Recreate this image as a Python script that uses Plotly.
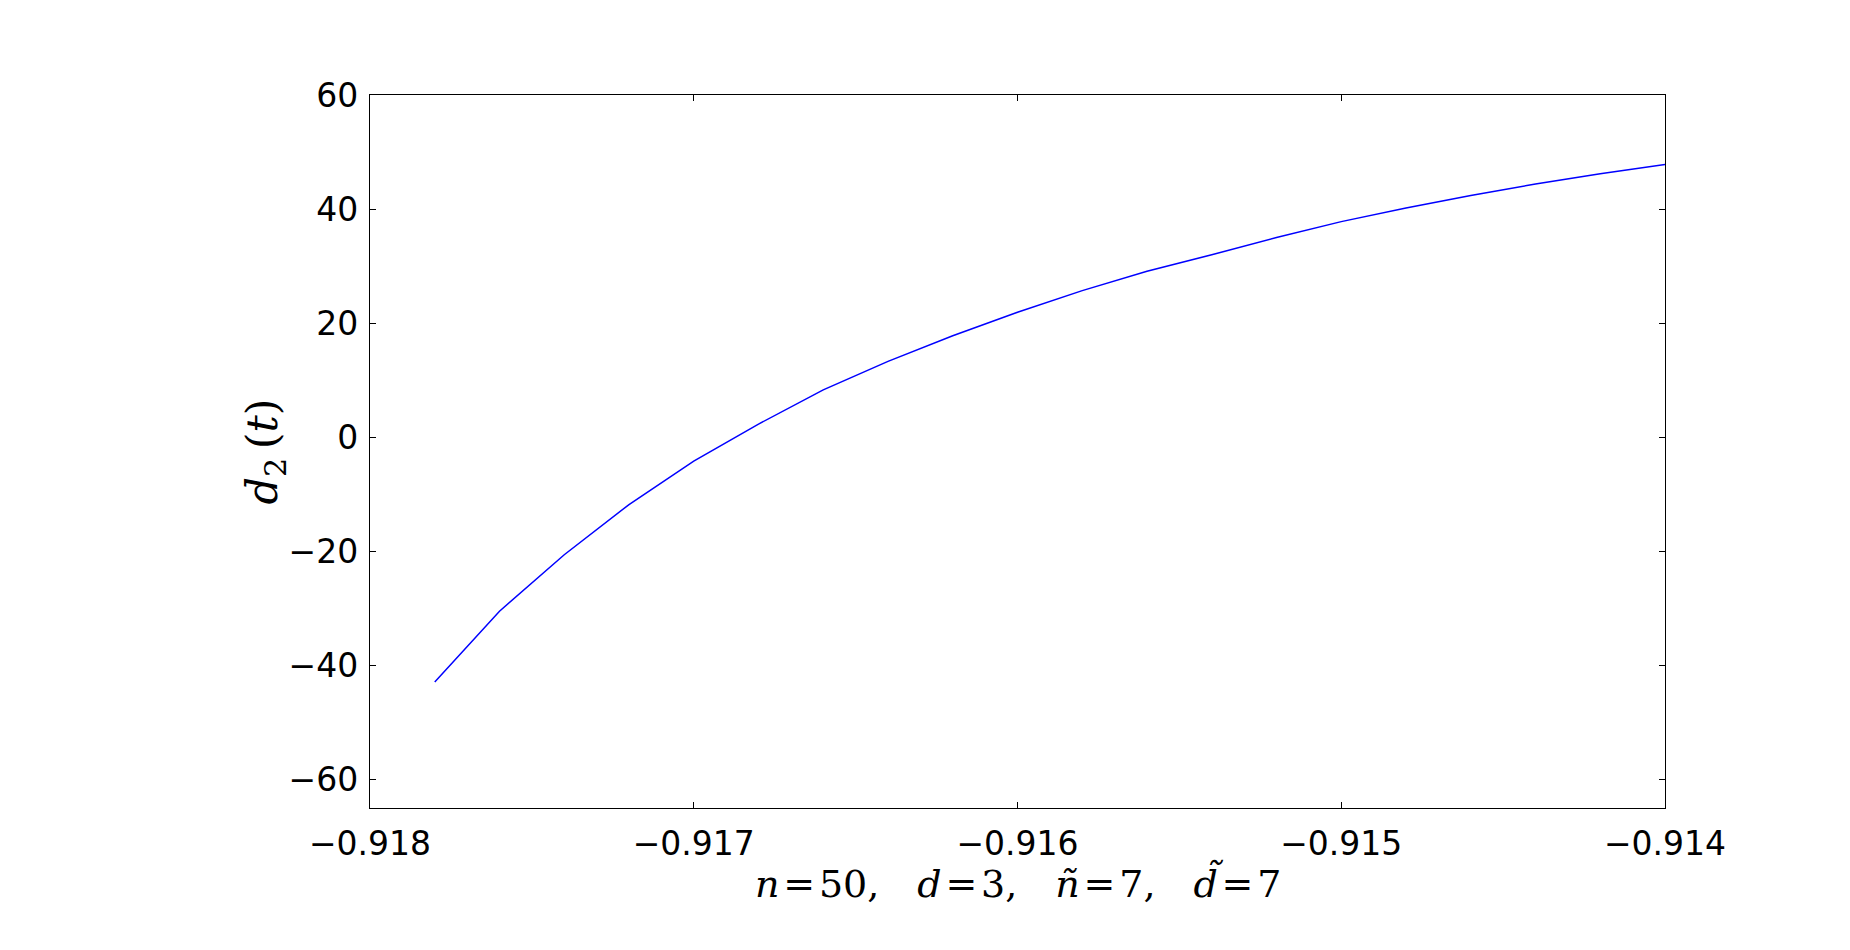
import plotly.graph_objects as go

t_values = [-0.9178, -0.9176, -0.9174, -0.9172, -0.9170, -0.9168, -0.9166, -0.9164,
            -0.9162, -0.9160, -0.9158, -0.9156, -0.9154, -0.9152, -0.9150, -0.9148,
            -0.9146, -0.9144, -0.9142, -0.9140]
d2_values = [-42.9, -30.5, -20.6, -11.8, -4.2, 2.3, 8.3, 13.3, 17.8, 21.9, 25.7, 29.1,
             32.0, 35.0, 37.8, 40.2, 42.4, 44.4, 46.2, 47.8]

x_ticks = [-0.918, -0.917, -0.916, -0.915, -0.914]
x_tick_labels = ["\u22120.918", "\u22120.917", "\u22120.916", "\u22120.915", "\u22120.914"]
y_ticks = [-60, -40, -20, 0, 20, 40, 60]
y_tick_labels = ["\u221260", "\u221240", "\u221220", "0", "20", "40", "60"]

sep = ",\u2003"
eq = "\u200a=\u200a"
x_title = (f"<i>n</i>{eq}50{sep}<i>d</i>{eq}3{sep}"
           f"<i>\u00f1</i>{eq}7{sep}<i>d\u0303</i>{eq}7")
y_title = "<i>d</i><sub>2</sub>\u2009(<i>t</i>)"

fig = go.Figure()
fig.add_trace(go.Scatter(x=t_values, y=d2_values, mode="lines",
                         line=dict(color="#0000ff", width=1.5), showlegend=False))

axis_common = dict(showgrid=False, zeroline=False, showline=True, linecolor="black",
                   linewidth=1.3, mirror="ticks", ticks="inside", ticklen=6,
                   tickcolor="black", tickwidth=1,
                   tickfont=dict(family="DejaVu Sans", size=33, color="black"))

fig.update_layout(
    width=1842, height=942,
    margin=dict(l=362, r=185, t=87, b=142),
    paper_bgcolor="white", plot_bgcolor="white",
    xaxis=dict(range=[-0.918, -0.914], tickvals=x_ticks, ticktext=x_tick_labels,
               ticklabelstandoff=6, **axis_common),
    yaxis=dict(range=[-65, 60], tickvals=y_ticks, ticktext=y_tick_labels,
               ticklabelstandoff=4, **axis_common),
    annotations=[
        dict(text=x_title, xref="paper", yref="paper", x=0.5, y=-0.104,
             xanchor="center", yanchor="middle", showarrow=False, borderpad=0,
             font=dict(family="DejaVu Serif", size=38, color="black")),
        dict(text=y_title, xref="paper", yref="paper", x=-0.0811, y=0.5,
             xanchor="center", yanchor="middle", textangle=-90, showarrow=False,
             font=dict(family="DejaVu Serif", size=43, color="black")),
    ],
)

fig.write_html("out.html")
